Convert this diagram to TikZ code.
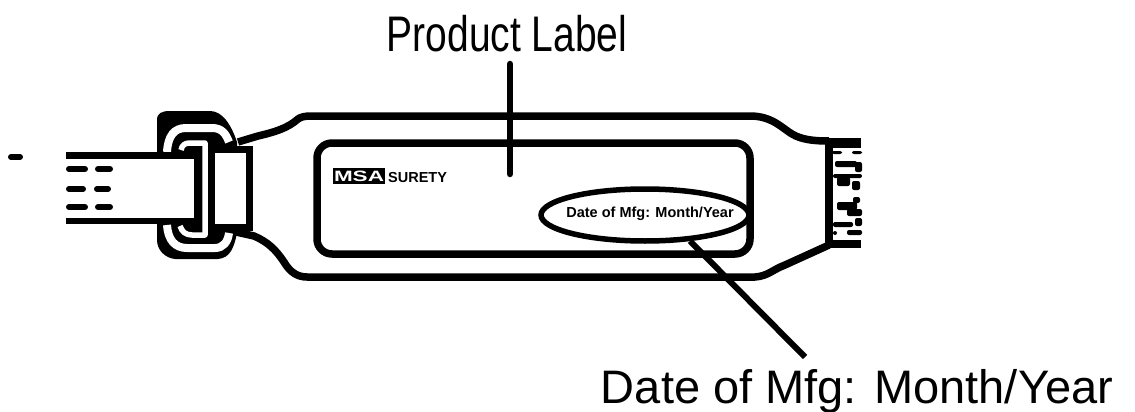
\documentclass[tikz,border=0pt]{standalone}
\usepackage{fontspec}
\usetikzlibrary{shapes.geometric}
\setmainfont{Liberation Sans}
\tikzset{
  dashbar/.style={draw=black,line width=6pt,line cap=round},
  outline/.style={draw=black,line width=7.5pt,line join=round},
  gap/.style={draw=white,line width=8pt},
  thin gap/.style={draw=white,line width=5.5pt,line join=round},
  callout/.style={inner sep=0pt,anchor=base},
  blot/.style={fill=black,rounded corners=2pt},
}
\begin{document}
\begin{tikzpicture}[x=1pt,y=-1pt]
\useasboundingbox (0,0) rectangle (1135,412);
% labels
\node[callout,font=\fontsize{50}{54}\selectfont,xscale=.78] (pl) at (507,52) {Product Label};
\coordinate (pltop) at (510,64);
\coordinate (plend) at (510,174);
\draw[line width=6.5pt,line cap=round] (pltop) -- (plend);
\node[callout,font=\fontsize{47}{50}\selectfont] (dm) at (857,403) {Date of Mfg: Month/Year};
% stray dash
\draw[dashbar] (11,157) -- (20,157);
% buckle: solid mass, then the white bands cut out of it
\fill (157,153) -- (157,120) .. controls (157,113) and (162,111) .. (170,111) -- (210,111)
  .. controls (222,111) and (231,124) .. (237,142) -- (237,233) .. controls (234,248) and (230,258) .. (218,259)
  -- (175,259) .. controls (165,258) and (157,250) .. (157,240) -- (157,223) -- cycle;
\draw[gap] (167,152) .. controls (168,136) and (174,128) .. (186,128) -- (212,128) .. controls (222,128) and (226,134) .. (229,142);
\draw[gap] (167,225) .. controls (168,240) and (175,248) .. (187,248) -- (215,248) .. controls (223,248) and (228,242) .. (229,233);
\draw[thin gap] (181,150) .. controls (182,145) and (185,143) .. (190,143) -- (205,143) -- (205,235) -- (192,235) .. controls (186,235) and (182,232) .. (180,226);
% strap
\fill[white] (66,156) rectangle (194,221);
\draw[line width=6.5pt] (66,155.5) -- (198,155.5);
\draw[line width=6.5pt] (66,221) -- (200,221);
\draw[line width=7pt] (198.5,146) -- (198.5,224.5);
\foreach \y/\a/\b/\c/\d in {169/69/85/98/110,189/69/83/97/108,207/69/85/98/110}
  \draw[dashbar] (\a,\y) -- (\b,\y) (\c,\y) -- (\d,\y);
% loop box
\draw[line width=7pt,fill=white] (211.5,149) rectangle (249.5,227.5);
% body outline
\draw[outline] (238,142) -- (258,136) .. controls (275,132) and (288,128) .. (298,119)
  .. controls (301,117) and (304,116) .. (312,116) -- (750,116) .. controls (772,116) and (782,128) .. (792,134) .. controls (802,140) and (815,141) .. (829,141);
\draw[outline] (236,232) -- (254,236) .. controls (268,242) and (276,250) .. (284,262) .. controls (290,272) and (297,277) .. (307,277)
  -- (755,277) .. controls (768,276) and (772,270) .. (785,265) -- (829,245);
% right end
\draw[line width=8pt] (829,140) -- (829,247);
\draw[line width=10pt] (825,143) -- (861,143);
\draw[line width=8pt] (825,244) -- (861,244);
\foreach \x/\y/\w/\h in {832/151/10/3,852/151/10/3,835/161/22/6,855/162/7/10,833/174/29/4,837/177/13/9,852/181/8/9,
  853/197/7/6,837/202/20/8,847/209/15/7,833/222/20/5,855/218/7/8,833/231/4/4,847/230/15/5}
  \fill[blot] (\x,\y) rectangle ++(\w,\h);
% product label panel
\draw[outline,rounded corners=15pt] (317,143) rectangle (750,254);
% logo
\node[fill=black,text=white,inner sep=0pt,xscale=1.5,minimum width=34.7pt,minimum height=16pt,font=\bfseries\fontsize{15}{15}\selectfont] (msa) at (359,176) {MSA};
\node[anchor=west,inner sep=0pt,font=\bfseries\fontsize{14.5}{15}\selectfont] (su) at (388,178) {SURETY};
% ellipse with text
\node[draw,line width=5.5pt,ellipse,minimum width=208pt,minimum height=52pt,inner sep=0pt] (el) at (645,215) {};
\node[inner sep=0pt,font=\bfseries\fontsize{14.5}{15}\selectfont] (dt) at (650,214) {Date of Mfg: Month/Year};
\coordinate (dmtop) at (805,357);
\coordinate (dmfoot) at (690,241);
\draw[line width=6pt] (dmfoot) -- (dmtop);
\end{tikzpicture}
\end{document}
